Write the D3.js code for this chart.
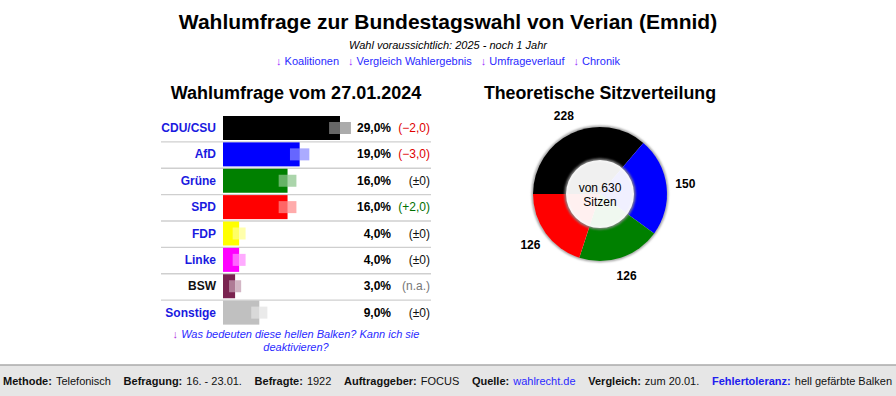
<!DOCTYPE html>
<html>
<head>
<meta charset="utf-8">
<script src="https://cdn.jsdelivr.net/npm/d3@7"></script>
<style>
  body { margin: 0; background: #fff; }
  svg { display: block; font-family: "Liberation Sans", Arial, sans-serif; }
</style>
</head>
<body>
<script>
// Umfragewerte
var parties = ["CDU/CSU", "AfD", "Grüne", "SPD", "FDP", "Linke", "BSW", "Sonstige"];
var values = [29, 19, 16, 16, 4, 4, 3, 9];
var changes = ["(−2,0)", "(−3,0)", "(±0)", "(+2,0)", "(±0)", "(±0)", "(n.a.)", "(±0)"];
var errors = [2.7, 2.4, 2.2, 2.2, 1.6, 1.6, 1.5, 2.0];
var colors = ["#000000", "#0000ff", "#008000", "#ff0000", "#ffff00", "#ff00ff", "#7a2350", "#c0c0c0"];

// Sitzverteilung
var seatParties = ["CDU/CSU", "AfD", "Grüne", "SPD"];
var seats = [228, 150, 126, 126];
var seatColors = ["#000000", "#0000ff", "#008000", "#ff0000"];
var totalSeats = 630;

var links = ["Koalitionen", "Vergleich Wahlergebnis", "Umfrageverlauf", "Chronik"];
var footerLabels = ["Methode:", "Befragung:", "Befragte:", "Auftraggeber:", "Quelle:", "Vergleich:", "Fehlertoleranz:"];
var footerValues = ["Telefonisch", "16. - 23.01.", "1922", "FOCUS", "wahlrecht.de", "zum 20.01.", "hell gefärbte Balken"];

var width = 896, height = 396;
var svg = d3.select("body").append("svg").attr("width", width).attr("height", height);

// Kopf
svg.append("text").attr("x", 448).attr("y", 29).attr("text-anchor", "middle")
  .style("font-size", "21px").style("font-weight", "bold").text("Wahlumfrage zur Bundestagswahl von Verian (Emnid)");
svg.append("text").attr("x", 448).attr("y", 49).attr("text-anchor", "middle")
  .style("font-size", "11px").style("font-style", "italic").text("Wahl voraussichtlich: 2025 - noch 1 Jahr");

var linkText = svg.append("text").attr("x", 448).attr("y", 65).attr("text-anchor", "middle").style("font-size", "11px");
links.forEach(function (l, i) {
  linkText.append("tspan").attr("dx", i === 0 ? 0 : 9).attr("fill", "#9b30ff").text("↓");
  linkText.append("tspan").attr("fill", "#2a2aff").text(" " + l);
});

// Balkendiagramm
svg.append("text").attr("x", 296).attr("y", 99).attr("text-anchor", "middle")
  .style("font-size", "18px").style("font-weight", "bold").text("Wahlumfrage vom 27.01.2024");

var x = d3.scaleLinear().domain([0, 50]).range([223, 223 + 201.7]);
var y = d3.scaleBand().domain(parties).range([115, 326]);
var barH = 24;

var rows = svg.append("g").selectAll("g").data(parties).join("g");

rows.filter(function (d, i) { return i < parties.length - 1; }).append("line")
  .attr("x1", 161).attr("x2", 431)
  .attr("y1", function (d) { return y(d) + y.bandwidth() + 0.5; })
  .attr("y2", function (d) { return y(d) + y.bandwidth() + 0.5; })
  .attr("stroke", "#cfcfcf").attr("stroke-width", 1.3);

rows.append("rect")
  .attr("x", x(0))
  .attr("y", function (d) { return y(d) + 1; })
  .attr("width", function (d, i) { return x(values[i]) - x(0); })
  .attr("height", barH)
  .attr("fill", function (d, i) { return colors[i]; });

// helle Balken (Fehlertoleranz)
rows.append("rect")
  .attr("x", function (d, i) { return x(values[i] - errors[i]); })
  .attr("y", function (d) { return y(d) + 1 + barH / 4; })
  .attr("width", function (d, i) { return x(values[i]) - x(values[i] - errors[i]); })
  .attr("height", barH / 2)
  .attr("fill", function (d, i) { return d3.interpolateRgb(colors[i], "#fff")(0.4); });
rows.append("rect")
  .attr("x", function (d, i) { return x(values[i]); })
  .attr("y", function (d) { return y(d) + 1 + barH / 4; })
  .attr("width", function (d, i) { return x(values[i] + errors[i]) - x(values[i]); })
  .attr("height", barH / 2)
  .attr("fill", function (d, i) { return d3.interpolateRgb(colors[i], "#fff")(0.67); });

rows.append("text")
  .attr("x", 216).attr("y", function (d) { return y(d) + 1 + barH / 2 + 4; })
  .attr("text-anchor", "end").style("font-size", "12px").style("font-weight", "bold")
  .attr("fill", function (d) { return d === "BSW" ? "#111" : "#1a1ae0"; })
  .text(function (d) { return d; });

rows.append("text")
  .attr("x", 391).attr("y", function (d) { return y(d) + 1 + barH / 2 + 4; })
  .attr("text-anchor", "end").style("font-size", "12px").style("font-weight", "bold")
  .text(function (d, i) { return values[i].toFixed(1).replace(".", ",") + "%"; });

rows.append("text")
  .attr("x", 430).attr("y", function (d) { return y(d) + 1 + barH / 2 + 4; })
  .attr("text-anchor", "end").style("font-size", "12px")
  .attr("fill", function (d, i) {
    var c = changes[i];
    if (c.indexOf("−") >= 0) return "#e00000";
    if (c.indexOf("+") >= 0) return "#007000";
    if (c.indexOf("n.a.") >= 0) return "#777";
    return "#111";
  })
  .text(function (d, i) { return changes[i]; });

var note = svg.append("text").attr("x", 296).attr("y", 338).attr("text-anchor", "middle")
  .style("font-size", "11px").style("font-style", "italic");
note.append("tspan").attr("fill", "#b030e0").text("↓ ");
note.append("tspan").attr("fill", "#2a2aff").text("Was bedeuten diese hellen Balken? Kann ich sie");
svg.append("text").attr("x", 296).attr("y", 351).attr("text-anchor", "middle")
  .style("font-size", "11px").style("font-style", "italic").attr("fill", "#2a2aff").text("deaktivieren?");

// Sitzverteilung
svg.append("text").attr("x", 600).attr("y", 99).attr("text-anchor", "middle")
  .style("font-size", "17.8px").style("font-weight", "bold").text("Theoretische Sitzverteilung");

var defs = svg.append("defs");
defs.append("filter").attr("id", "blur").append("feGaussianBlur").attr("stdDeviation", 1.2);

var cx = 600, cy = 194, rOut = 67, rIn = 34;
var donut = svg.append("g").attr("transform", "translate(" + cx + "," + cy + ")");

donut.append("circle").attr("r", rOut).attr("fill", "none").attr("stroke", "#999")
  .attr("stroke-width", 2.5).attr("filter", "url(#blur)");

var pie = d3.pie().sort(null).startAngle(-Math.PI / 2).endAngle(Math.PI * 3 / 2);
var arcs = pie(seats);
var arc = d3.arc().innerRadius(0).outerRadius(rOut);
var labelArc = d3.arc().innerRadius(86).outerRadius(86);

donut.selectAll("path").data(arcs).join("path")
  .attr("d", arc).attr("fill", function (d, i) { return seatColors[i]; });

donut.append("circle").attr("r", rIn).attr("fill", "none").attr("stroke", "#888")
  .attr("stroke-width", 3).attr("filter", "url(#blur)");
donut.append("circle").attr("r", rIn).attr("fill", "#fff").attr("fill-opacity", 0.94);

donut.append("text").attr("y", -2).attr("text-anchor", "middle").style("font-size", "12px").text("von " + totalSeats);
donut.append("text").attr("y", 12).attr("text-anchor", "middle").style("font-size", "12px").text("Sitzen");

donut.selectAll("text.lbl").data(arcs).join("text").attr("class", "lbl")
  .attr("transform", function (d) { return "translate(" + labelArc.centroid(d) + ")"; })
  .attr("dy", "0.35em").attr("text-anchor", "middle")
  .style("font-size", "12px").style("font-weight", "bold")
  .text(function (d) { return d.data; });

// Fußzeile
svg.append("rect").attr("x", 0).attr("y", 365).attr("width", width).attr("height", 31).attr("fill", "#e6e6e6");
svg.append("line").attr("x1", 0).attr("x2", width).attr("y1", 365).attr("y2", 365)
  .attr("stroke", "#aaa").attr("stroke-width", 1.5);

var foot = svg.append("g").style("font-size", "11px");
var items = footerLabels.map(function (lab, i) {
  var g = foot.append("g");
  var t1 = g.append("text").attr("y", 385).style("font-weight", "bold")
    .attr("fill", lab === "Fehlertoleranz:" ? "#2020ee" : "#111").text(lab);
  var w1 = t1.node().getComputedTextLength();
  var t2 = g.append("text").attr("x", w1 + 4).attr("y", 385)
    .attr("fill", footerValues[i] === "wahlrecht.de" ? "#2a2aff" : "#111").text(footerValues[i]);
  return { g: g, w: w1 + 4 + t2.node().getComputedTextLength() };
});
var total = d3.sum(items, function (d) { return d.w; });
var gap = (889 - total) / (items.length - 1);
var pos = 3;
items.forEach(function (d) {
  d.g.attr("transform", "translate(" + pos + ",0)");
  pos += d.w + gap;
});
</script>
</body>
</html>
